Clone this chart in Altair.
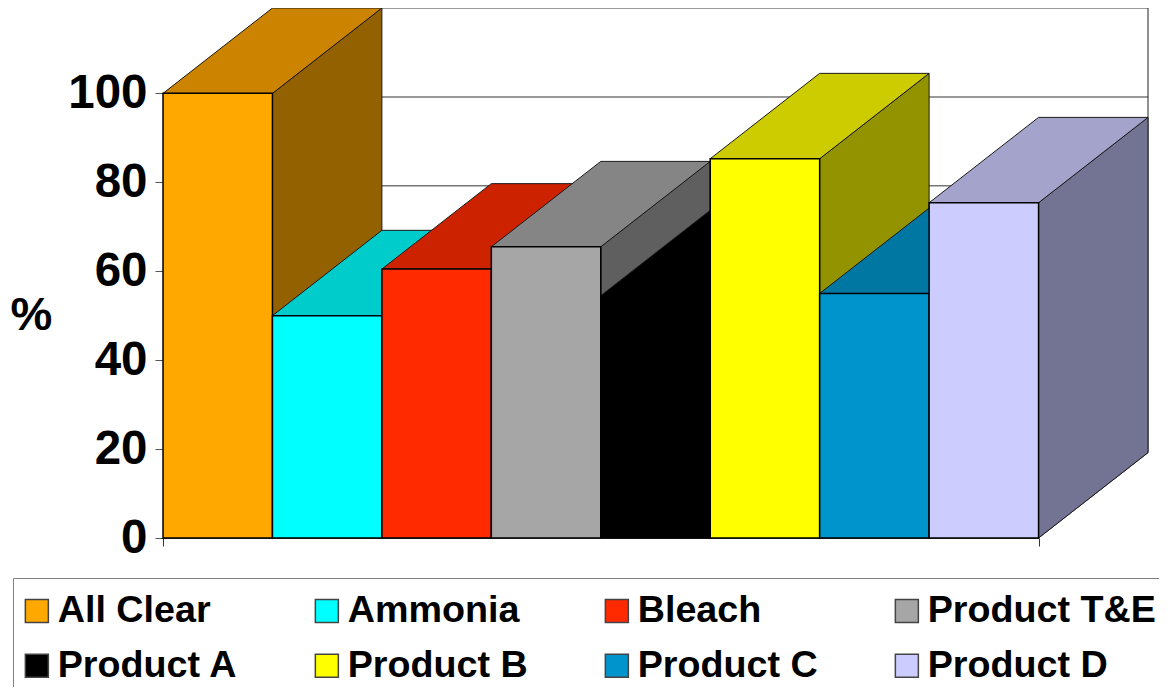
import altair as alt
import pandas as pd

names = ["All Clear", "Ammonia", "Bleach", "Product T&E", "Product A", "Product B", "Product C", "Product D"]
values = [100, 50, 60.5, 65.5, 54.5, 85.3, 55, 75.4]
front = ["#FFA800", "#00FFFF", "#FF2A00", "#A6A6A6", "#000000", "#FFFF00", "#0094CC", "#CCCCFF"]
top = ["#CC8400", "#00CCCC", "#CC2200", "#858585", "#000000", "#CCCC00", "#0076A3", "#A3A3CC"]
side = ["#936100", "#009393", "#931800", "#5F5F5F", "#000000", "#939300", "#005577", "#737394"]
y_ticks = [0, 20, 40, 60, 80, 100]
x_ticks = [0, 8]
depth_x = 1
depth_y = 19.2

FONT = "Liberation Sans"
x_scale = alt.Scale(domain=[0, 8 + depth_x], nice=False, zero=False)
y_scale = alt.Scale(domain=[0, 100 + depth_y], nice=False, zero=False)
x_axis = alt.Axis(values=x_ticks, labels=False, domain=False, grid=False, tickSize=8,
                  tickColor="#333333", tickWidth=1, title=None)
y_axis = alt.Axis(values=y_ticks, domain=False, grid=False, tickSize=8, tickColor="#555555",
                  tickWidth=1, labelFont=FONT, labelFontSize=47.5, labelFontWeight="bold",
                  labelColor="black", labelPadding=8, labelBaseline="middle",
                  title="%", titleFont=FONT, titleFontSize=47, titleFontWeight="bold",
                  titleColor="black", titleAngle=0, titleX=-132, titleY=331,
                  titleAlign="center")


def X(field="x"):
    return alt.X(f"{field}:Q", scale=x_scale, axis=x_axis)


def Y(field="y"):
    return alt.Y(f"{field}:Q", scale=y_scale, axis=y_axis)


layers = []

# back wall grid lines
grid_df = pd.DataFrame({"x": [depth_x] * len(y_ticks), "x2": [8 + depth_x] * len(y_ticks),
                        "y": [t + depth_y for t in y_ticks]})
layers.append(alt.Chart(grid_df).mark_rule(color="#777777", strokeWidth=1.5).encode(
    x=X(), x2="x2:Q", y=Y()))

# right wall edge and floor edge
layers.append(alt.Chart(pd.DataFrame({"x": [8 + depth_x], "y": [depth_y], "y2": [100 + depth_y]}))
              .mark_rule(color="#222222", strokeWidth=1).encode(x=X(), y=Y(), y2="y2:Q"))
layers.append(alt.Chart(pd.DataFrame({"x": [8, 8 + depth_x], "y": [0, depth_y]}))
              .mark_line(color="#333333", strokeWidth=1).encode(x=X(), y=Y()))
layers.append(alt.Chart(pd.DataFrame({"x": [0, 8], "y": [0, 0]}))
              .mark_line(color="black", strokeWidth=1.5).encode(x=X(), y=Y()))

# side faces first: the tops of neighbouring bars cover them
for i, v in enumerate(values):
    side_df = pd.DataFrame({"x": [i + 1, i + 1 + depth_x],
                            "lo": [0, depth_y],
                            "hi": [v, v + depth_y]})
    layers.append(
        alt.Chart(side_df)
        .mark_area(color=side[i], stroke="#1a1a1a", strokeWidth=1, interpolate="linear")
        .encode(x=X(), y=Y("lo"), y2="hi:Q")
    )

# top faces, shortest bar first so taller neighbours cover it
for i in sorted(range(len(values)), key=lambda k: values[k]):
    v = values[i]
    top_df = pd.DataFrame({"x": [i, i + 1, i + 1 + depth_x],
                           "lo": [v, v, v + depth_y],
                           "hi": [v, v + depth_y, v + depth_y]})
    layers.append(
        alt.Chart(top_df)
        .mark_area(color=top[i], stroke="#1a1a1a", strokeWidth=1, interpolate="linear")
        .encode(x=X(), y=Y("lo"), y2="hi:Q")
    )

# front faces with the legend
bars = pd.DataFrame({"name": names, "x": list(range(8)), "x2": list(range(1, 9)),
                     "y": values, "y0": [0] * 8})
layers.append(
    alt.Chart(bars)
    .mark_bar(stroke="black", strokeWidth=1.5)
    .encode(
        x=X(), x2="x2:Q", y=Y(), y2="y0:Q",
        color=alt.Color(
            "name:N",
            scale=alt.Scale(domain=names, range=front),
            legend=alt.Legend(
                title=None, orient="none", direction="horizontal", legendX=-150, legendY=570,
                columns=4, gridAlign="all",
                symbolType="square", symbolSize=529, symbolStrokeColor="#444444", symbolStrokeWidth=1.5,
                symbolOffset=-9,
                labelFont=FONT, labelFontSize=37.7, labelFontWeight="bold", labelColor="black",
                labelOffset=2, labelLimit=400, columnPadding=26, rowPadding=16, padding=14,
                strokeColor="#808080", fillColor="white", symbolOpacity=1,
            ),
        ),
    )
)

chart = (
    alt.layer(*layers)
    .properties(
        width=985, height=530,
        autosize=alt.AutoSizeParams(type="none"),
        padding={"left": 155, "top": 0, "right": 11, "bottom": 149},
        background="white",
    )
    .configure_view(stroke=None)
)

chart.save("out.html", embed_options={"renderer": "svg", "actions": False})
